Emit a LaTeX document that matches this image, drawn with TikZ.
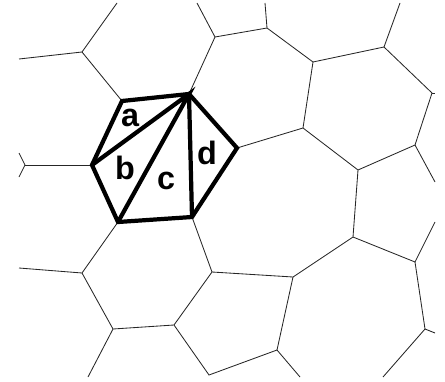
\documentclass[tikz,border=0pt]{standalone}
\usepackage{fontspec}
\usepackage{tikz}
\newfontfamily\lblfont{Liberation Sans}

\begin{document}
\begin{tikzpicture}[
      x=0.025cm, y=-0.025cm,
      cell/.style={draw=black!85, line width=0.6pt},
      tri/.style={draw=black, line width=3pt, line join=miter},
      lbl/.style={font=\lblfont\bfseries\fontsize{23}{27}\selectfont, inner sep=0pt}
    ]
      \useasboundingbox (0,0) rectangle (445,381);
      % highlighted cell
      \coordinate (A) at (122,101);
      \coordinate (B) at (189,94);
      \coordinate (D) at (237,148);
      \coordinate (F) at (192,217);
      \coordinate (E) at (118,222);
      \coordinate (G) at (92,165);
      % neighbouring cells
      \coordinate (p1) at (82,52);
      \coordinate (p2) at (215,37);
      \coordinate (p3) at (267,28);
      \coordinate (p4) at (313,62);
      \coordinate (p5) at (384,47);
      \coordinate (p6) at (432,93);
      \coordinate (p7) at (303,128);
      \coordinate (p8) at (358,170);
      \coordinate (p9) at (415,145);
      \coordinate (p10) at (353,237);
      \coordinate (p11) at (293,277);
      \coordinate (p12) at (415,262);
      \coordinate (p13) at (425,329);
      \coordinate (p14) at (277,350);
      \coordinate (p15) at (209,375);
      \coordinate (p16) at (174,325);
      \coordinate (p17) at (113,329);
      \coordinate (p18) at (82,273);
      \coordinate (p19) at (212,272);
      \coordinate (p20) at (25,165);
      % loose ends at the border
      \coordinate (e1) at (19,59);
      \coordinate (e2) at (117,3);
      \coordinate (e3) at (197,3);
      \coordinate (e4) at (265,3);
      \coordinate (e5) at (400,3);
      \coordinate (e6) at (435,93);
      \coordinate (e7) at (435,182);
      \coordinate (e8) at (435,222);
      \coordinate (e9) at (435,333);
      \coordinate (e10) at (383,377);
      \coordinate (e11) at (300,377);
      \coordinate (e12) at (88,377);
      \coordinate (e13) at (19,268);
      \coordinate (e14) at (19,153);
      \coordinate (e15) at (19,177);

      \draw[cell] (e1) -- (p1) -- (A);
      \draw[cell] (e2) -- (p1);
      \draw[cell] (e3) -- (p2) -- (B);
      \draw[cell] (p2) -- (p3) -- (p4) -- (p5) -- (p6) -- (p9) -- (p8) -- (p7) -- (D);
      \draw[cell] (e4) -- (p3);
      \draw[cell] (p4) -- (p7);
      \draw[cell] (e5) -- (p5);
      \draw[cell] (p6) -- (e6);
      \draw[cell] (p9) -- (e7);
      \draw[cell] (p8) -- (p10) -- (p11) -- (p19) -- (F);
      \draw[cell] (p10) -- (p12) -- (p13) -- (e9);
      \draw[cell] (p12) -- (e8);
      \draw[cell] (p13) -- (e10);
      \draw[cell] (p11) -- (p14) -- (p15) -- (p16) -- (p17) -- (p18) -- (E);
      \draw[cell] (p14) -- (e11);
      \draw[cell] (p16) -- (p19);
      \draw[cell] (p17) -- (e12);
      \draw[cell] (p18) -- (e13);
      \draw[cell] (e14) -- (p20) -- (e15);
      \draw[cell] (p20) -- (G);

      \draw[tri] (A) -- (B) -- (D) -- (F) -- (E) -- (G) -- cycle;
      \draw[tri] (G) -- (B) -- (E);
      \draw[tri] (B) -- (F);

      \node[lbl] (la) at (130,118) {a};
      \node[lbl] (lb) at (125,168) {b};
      \node[lbl] (lc) at (166,181) {c};
      \node[lbl] (ld) at (207,153) {d};
    \end{tikzpicture}
\end{document}
